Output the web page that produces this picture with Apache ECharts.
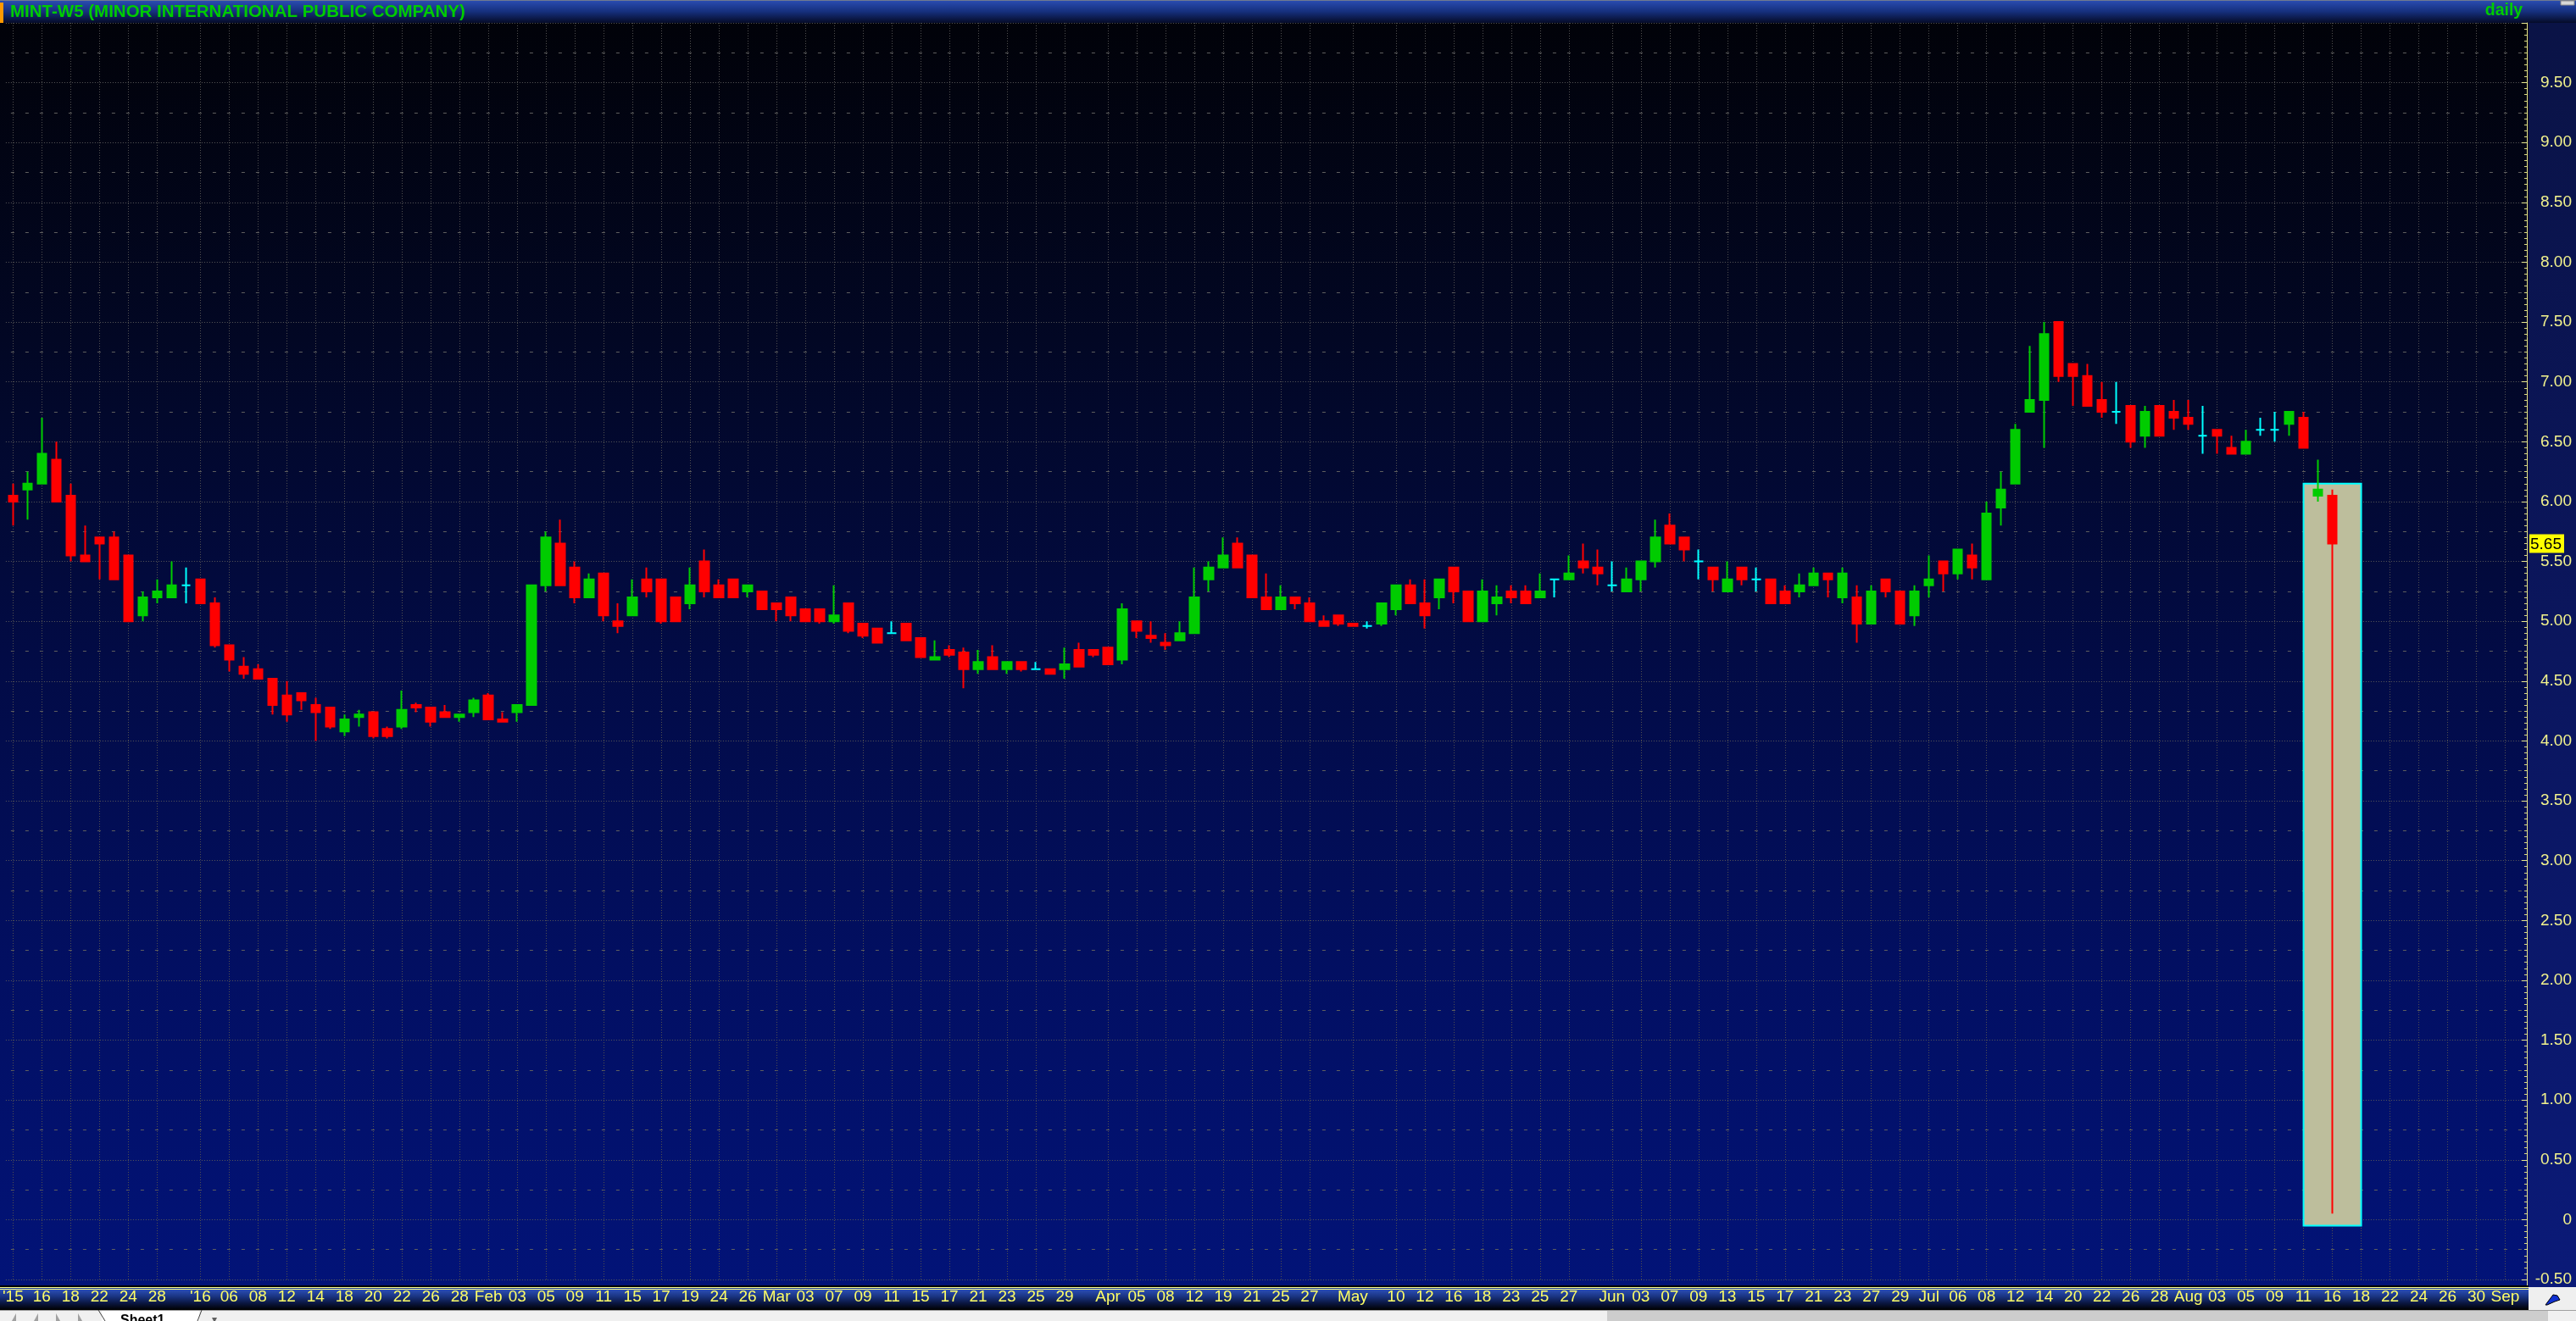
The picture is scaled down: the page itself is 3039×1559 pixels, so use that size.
<!DOCTYPE html>
<html><head><meta charset="utf-8">
<script src="https://cdn.jsdelivr.net/npm/echarts@6/dist/echarts.min.js"></script>
<style>html,body{margin:0;padding:0;background:#000;overflow:hidden}#c{width:3039px;height:1559px}</style>
</head><body><div id="c"></div>
<script>
// ---------- DATA ----------
const chartTitle = 'MINT-W5 (MINOR INTERNATIONAL PUBLIC COMPANY)';
const periodText = 'daily';
const dates = [
'2015-12-14','2015-12-15','2015-12-16','2015-12-17','2015-12-18','2015-12-21','2015-12-22','2015-12-23','2015-12-24','2015-12-25','2015-12-28','2015-12-29','2015-12-30',
'2016-01-04','2016-01-05','2016-01-06','2016-01-07','2016-01-08','2016-01-11','2016-01-12','2016-01-13','2016-01-14','2016-01-15','2016-01-18','2016-01-19','2016-01-20','2016-01-21','2016-01-22','2016-01-25','2016-01-26','2016-01-27','2016-01-28','2016-01-29',
'2016-02-01','2016-02-02','2016-02-03','2016-02-04','2016-02-05','2016-02-08','2016-02-09','2016-02-10','2016-02-11','2016-02-12','2016-02-15','2016-02-16','2016-02-17','2016-02-18','2016-02-19','2016-02-23','2016-02-24','2016-02-25','2016-02-26','2016-02-29',
'2016-03-01','2016-03-02','2016-03-03','2016-03-04','2016-03-07','2016-03-08','2016-03-09','2016-03-10','2016-03-11','2016-03-14','2016-03-15','2016-03-16','2016-03-17','2016-03-18','2016-03-21','2016-03-22','2016-03-23','2016-03-24','2016-03-25','2016-03-28','2016-03-29','2016-03-30','2016-03-31',
'2016-04-01','2016-04-04','2016-04-05','2016-04-07','2016-04-08','2016-04-11','2016-04-12','2016-04-18','2016-04-19','2016-04-20','2016-04-21','2016-04-22','2016-04-25','2016-04-26','2016-04-27','2016-04-28','2016-04-29',
'2016-05-03','2016-05-04','2016-05-09','2016-05-10','2016-05-11','2016-05-12','2016-05-13','2016-05-16','2016-05-17','2016-05-18','2016-05-19','2016-05-23','2016-05-24','2016-05-25','2016-05-26','2016-05-27','2016-05-30','2016-05-31',
'2016-06-01','2016-06-02','2016-06-03','2016-06-06','2016-06-07','2016-06-08','2016-06-09','2016-06-10','2016-06-13','2016-06-14','2016-06-15','2016-06-16','2016-06-17','2016-06-20','2016-06-21','2016-06-22','2016-06-23','2016-06-24','2016-06-27','2016-06-28','2016-06-29','2016-06-30',
'2016-07-01','2016-07-05','2016-07-06','2016-07-07','2016-07-08','2016-07-11','2016-07-12','2016-07-13','2016-07-14','2016-07-15','2016-07-20','2016-07-21','2016-07-22','2016-07-25','2016-07-26','2016-07-27','2016-07-28','2016-07-29',
'2016-08-01','2016-08-02','2016-08-03','2016-08-04','2016-08-05','2016-08-08','2016-08-09','2016-08-10','2016-08-11','2016-08-15','2016-08-16',
'2016-08-17','2016-08-18','2016-08-19','2016-08-22','2016-08-23','2016-08-24','2016-08-25','2016-08-26','2016-08-29','2016-08-30','2016-08-31','2016-09-01','2016-09-02'
];
const openP = [
6.05,6.10,6.15,6.35,6.05,5.55,5.70,5.70,5.55,5.05,
5.20,5.20,5.30,5.35,5.15,4.80,4.62,4.60,4.52,4.38,
4.40,4.30,4.28,4.08,4.20,4.24,4.10,4.12,4.30,4.28,
4.24,4.20,4.24,4.38,4.18,4.24,4.30,5.30,5.65,5.45,
5.20,5.40,5.00,5.05,5.35,5.35,5.20,5.15,5.50,5.30,
5.35,5.25,5.25,5.15,5.20,5.10,5.10,5.00,5.15,4.98,
4.94,4.90,4.98,4.86,4.68,4.76,4.74,4.60,4.70,4.60,
4.66,4.60,4.60,4.60,4.76,4.76,4.78,4.68,5.00,4.88,
4.82,4.84,4.90,5.35,5.45,5.65,5.55,5.20,5.10,5.20,
5.15,5.00,5.05,4.98,4.96,4.98,5.10,5.30,5.15,5.20,
5.45,5.25,5.00,5.15,5.25,5.25,5.20,5.35,5.35,5.50,
5.45,5.30,5.25,5.35,5.50,5.80,5.70,5.50,5.45,5.25,
5.45,5.35,5.35,5.25,5.25,5.30,5.40,5.20,5.20,4.98,
5.35,5.25,5.05,5.30,5.50,5.40,5.55,5.35,5.95,6.15,
6.75,6.85,7.50,7.15,7.05,6.85,6.75,6.80,6.55,6.80,
6.75,6.70,6.55,6.60,6.45,6.40,6.60,6.60,6.65,6.70,
6.05,6.05];
const closeP = [
6.00,6.15,6.40,6.00,5.55,5.50,5.65,5.35,5.00,5.20,
5.25,5.30,5.30,5.15,4.80,4.68,4.56,4.52,4.30,4.22,
4.34,4.24,4.12,4.18,4.22,4.04,4.04,4.26,4.28,4.16,
4.20,4.22,4.34,4.18,4.16,4.30,5.30,5.70,5.30,5.20,
5.35,5.05,4.96,5.20,5.25,5.00,5.00,5.30,5.25,5.20,
5.20,5.30,5.10,5.10,5.05,5.00,5.00,5.05,4.92,4.88,
4.82,4.90,4.84,4.70,4.70,4.72,4.60,4.66,4.60,4.66,
4.60,4.60,4.56,4.64,4.62,4.72,4.64,5.10,4.92,4.86,
4.80,4.90,5.20,5.45,5.55,5.45,5.20,5.10,5.20,5.15,
5.00,4.96,4.98,4.96,4.96,5.15,5.30,5.15,5.05,5.35,
5.25,5.00,5.25,5.20,5.20,5.15,5.25,5.35,5.40,5.45,
5.40,5.30,5.35,5.50,5.70,5.65,5.60,5.50,5.35,5.35,
5.35,5.35,5.15,5.15,5.30,5.40,5.35,5.40,4.98,5.25,
5.25,4.98,5.25,5.35,5.40,5.60,5.45,5.90,6.10,6.60,
6.85,7.40,7.05,7.05,6.80,6.75,6.75,6.50,6.75,6.55,
6.70,6.65,6.55,6.55,6.40,6.50,6.60,6.60,6.75,6.45,
6.10,5.65];
const highP = [
6.15,6.25,6.70,6.50,6.15,5.80,5.70,5.75,5.55,5.25,
5.35,5.50,5.45,5.35,5.20,4.80,4.70,4.64,4.52,4.50,
4.40,4.36,4.28,4.22,4.26,4.24,4.12,4.42,4.32,4.28,
4.30,4.22,4.36,4.40,4.24,4.30,5.30,5.75,5.85,5.50,
5.40,5.40,5.15,5.35,5.45,5.35,5.20,5.45,5.60,5.35,
5.35,5.30,5.25,5.15,5.20,5.10,5.10,5.30,5.15,4.98,
4.94,5.00,4.98,4.86,4.84,4.80,4.78,4.76,4.80,4.66,
4.66,4.66,4.60,4.78,4.82,4.76,4.78,5.15,5.00,5.00,
4.90,5.00,5.45,5.50,5.70,5.70,5.55,5.40,5.30,5.20,
5.20,5.05,5.05,4.98,5.00,5.15,5.30,5.35,5.35,5.35,
5.45,5.25,5.35,5.30,5.30,5.30,5.40,5.35,5.55,5.65,
5.60,5.50,5.45,5.50,5.85,5.90,5.70,5.60,5.45,5.50,
5.45,5.45,5.35,5.30,5.40,5.45,5.40,5.45,5.30,5.30,
5.35,5.25,5.30,5.55,5.50,5.60,5.65,6.00,6.25,6.65,
7.30,7.50,7.50,7.15,7.15,7.00,7.00,6.80,6.80,6.80,
6.85,6.85,6.80,6.60,6.55,6.60,6.70,6.75,6.75,6.75,
6.35,6.10];
const lowP = [
5.80,5.85,6.15,6.00,5.50,5.50,5.35,5.35,5.00,5.00,
5.15,5.20,5.15,5.15,4.78,4.58,4.52,4.52,4.22,4.16,
4.26,4.00,4.10,4.04,4.12,4.02,4.02,4.10,4.24,4.12,
4.20,4.16,4.20,4.18,4.16,4.16,4.30,5.25,5.30,5.15,
5.20,5.00,4.90,5.05,5.20,4.98,5.00,5.10,5.20,5.20,
5.20,5.20,5.10,5.00,5.00,5.00,4.98,4.98,4.90,4.86,
4.82,4.90,4.84,4.70,4.68,4.70,4.44,4.56,4.60,4.56,
4.58,4.60,4.56,4.52,4.62,4.70,4.64,4.64,4.86,4.82,
4.76,4.84,4.90,5.25,5.45,5.45,5.20,5.10,5.10,5.10,
5.00,4.96,4.96,4.96,4.94,4.96,5.05,5.15,4.94,5.10,
5.15,5.00,5.00,5.05,5.15,5.15,5.20,5.20,5.35,5.40,
5.30,5.25,5.25,5.25,5.45,5.65,5.50,5.35,5.25,5.25,
5.30,5.25,5.15,5.15,5.20,5.30,5.20,5.15,4.82,4.98,
5.20,4.98,4.96,5.20,5.25,5.35,5.35,5.35,5.80,6.15,
6.75,6.45,7.00,6.80,6.80,6.70,6.65,6.45,6.45,6.55,
6.60,6.60,6.40,6.40,6.40,6.40,6.55,6.50,6.55,6.45,
6.00,0.05];
const tickLabels = [
['2015-12-14',"'15"],['2015-12-16','16'],['2015-12-18','18'],['2015-12-22','22'],['2015-12-24','24'],['2015-12-28','28'],
['2016-01-04',"'16"],['2016-01-06','06'],['2016-01-08','08'],['2016-01-12','12'],['2016-01-14','14'],['2016-01-18','18'],['2016-01-20','20'],['2016-01-22','22'],['2016-01-26','26'],['2016-01-28','28'],
['2016-02-01','Feb'],['2016-02-03','03'],['2016-02-05','05'],['2016-02-09','09'],['2016-02-11','11'],['2016-02-15','15'],['2016-02-17','17'],['2016-02-19','19'],['2016-02-24','24'],['2016-02-26','26'],
['2016-03-01','Mar'],['2016-03-03','03'],['2016-03-07','07'],['2016-03-09','09'],['2016-03-11','11'],['2016-03-15','15'],['2016-03-17','17'],['2016-03-21','21'],['2016-03-23','23'],['2016-03-25','25'],['2016-03-29','29'],
['2016-04-01','Apr'],['2016-04-05','05'],['2016-04-08','08'],['2016-04-12','12'],['2016-04-19','19'],['2016-04-21','21'],['2016-04-25','25'],['2016-04-27','27'],
['2016-05-03','May'],['2016-05-10','10'],['2016-05-12','12'],['2016-05-16','16'],['2016-05-18','18'],['2016-05-23','23'],['2016-05-25','25'],['2016-05-27','27'],
['2016-06-01','Jun'],['2016-06-03','03'],['2016-06-07','07'],['2016-06-09','09'],['2016-06-13','13'],['2016-06-15','15'],['2016-06-17','17'],['2016-06-21','21'],['2016-06-23','23'],['2016-06-27','27'],['2016-06-29','29'],
['2016-07-01','Jul'],['2016-07-06','06'],['2016-07-08','08'],['2016-07-12','12'],['2016-07-14','14'],['2016-07-20','20'],['2016-07-22','22'],['2016-07-26','26'],['2016-07-28','28'],
['2016-08-01','Aug'],['2016-08-03','03'],['2016-08-05','05'],['2016-08-09','09'],['2016-08-11','11'],['2016-08-16','16'],['2016-08-18','18'],['2016-08-22','22'],['2016-08-24','24'],['2016-08-26','26'],['2016-08-30','30'],
['2016-09-01','Sep']
];
const highlightFrom = '2016-08-11', highlightTo = '2016-08-18';
const highlightTop = 6.15, highlightBottom = -0.05;
const yMin = -0.5, yMax = 10, yStep = 0.5;

// ---------- CHART ----------
const W = 3039, H = 1559;
const GL = 6, GR = 58, GT = 27, GB = 49;
const plotRight = W - GR;
const labelMap = {};
tickLabels.forEach(p => { labelMap[p[0]] = p[1]; });
const isTick = (i, v) => labelMap[v] !== undefined;

const UP = '#00CC00', DOWN = '#FF0000', DOJI = '#00FFFF';
const dojiStyle = {color: DOJI, color0: DOJI, borderColor: DOJI, borderColor0: DOJI, borderColorDoji: DOJI};
const candleData = openP.map((o, i) => {
  const item = {value: [o, closeP[i], lowP[i], highP[i]]};
  if (o === closeP[i]) item.itemStyle = dojiStyle;
  return item;
});
const LG = (stops) => new echarts.graphic.LinearGradient(0, 0, 0, 1, stops.map((c, i) => ({offset: i / (stops.length - 1), color: c})));

const chart = echarts.init(document.getElementById('c'), null, {renderer: 'canvas', width: W, height: H});

const baseGraphics = [
  {type: 'rect', id: 'bgPlot', z: -10, silent: true, shape: {x: 0, y: GT, width: plotRight + 2, height: 1519 - GT}, style: {fill: LG(['#010209', '#020724', '#020b45', '#020f62', '#021378'])}},
  {type: 'rect', id: 'bgAxis', z: -9, silent: true, shape: {x: plotRight + 2, y: GT, width: W - plotRight - 2, height: 1519 - GT}, style: {fill: LG(['#0a1346', '#0b165e', '#0b1a78'])}},
  {type: 'rect', id: 'titleBar', z: -8, silent: true, shape: {x: 0, y: 0, width: W, height: GT}, style: {fill: LG(['#2b4eb4', '#16307e', '#050b28'])}},
  {type: 'rect', id: 'titleTop', z: -7, silent: true, shape: {x: 0, y: 0, width: W, height: 1}, style: {fill: '#707a90'}},
  {type: 'rect', id: 'orange', z: 5, silent: true, shape: {x: 0, y: 3, width: 4, height: 24}, style: {fill: '#FF9900'}},
  {type: 'text', id: 'title', z: 6, silent: true, x: 12, y: 14, style: {text: chartTitle, fill: '#00CC00', font: 'bold 20.5px "Liberation Sans", Arial, sans-serif', verticalAlign: 'middle', textAlign: 'left'}},
  {type: 'text', id: 'daily', z: 6, silent: true, x: 2954, y: 13, style: {text: periodText, fill: '#00CC00', font: 'bold 19.5px "Liberation Sans", Arial, sans-serif', verticalAlign: 'middle', textAlign: 'center'}},
  {type: 'rect', id: 'corner', z: 6, silent: true, shape: {x: 3021, y: 1, width: 16, height: 5}, style: {fill: '#d8d8d8', stroke: '#888', lineWidth: 1}},
  {type: 'rect', id: 'axExt', z: 3, silent: true, shape: {x: plotRight, y: 1508, width: 1, height: 10}, style: {fill: '#E8E890'}},
  {type: 'rect', id: 'blk', z: 3, silent: true, shape: {x: 0, y: 1517, width: plotRight + 2, height: 2}, style: {fill: '#000000'}},
  {type: 'rect', id: 'yl1', z: 3, silent: true, shape: {x: 0, y: 1519, width: plotRight + 2, height: 1}, style: {fill: '#FFFF88'}},
  {type: 'rect', id: 'bl1', z: 3, silent: true, shape: {x: 0, y: 1520, width: plotRight + 2, height: 1}, style: {fill: '#1838a0'}},
  {type: 'rect', id: 'yl2', z: 3, silent: true, shape: {x: 0, y: 1521, width: plotRight + 2, height: 1}, style: {fill: '#FFFF88'}},
  {type: 'rect', id: 'xband', z: -6, silent: true, shape: {x: 0, y: 1522, width: plotRight + 2, height: 24}, style: {fill: LG(['#2c4fb6', '#1a3482', '#0a1640', '#000000'])}},
  {type: 'rect', id: 'cornerB', z: 3, silent: true, shape: {x: plotRight + 2, y: 1519, width: W - plotRight - 2, height: 28}, style: {fill: '#EFEFEF'}},
  {type: 'polygon', id: 'flag', z: 4, silent: true, shape: {points: [[3003, 1540], [3012, 1528], [3017, 1529], [3020, 1534], [3014, 1536], [3005, 1540]]}, style: {fill: '#1030D0', stroke: '#000', lineWidth: 1}},
  {type: 'rect', id: 'tabBar', z: 3, silent: true, shape: {x: 0, y: 1546, width: W, height: 13}, style: {fill: '#F0F0F0'}},
  {type: 'rect', id: 'tabLine', z: 3, silent: true, shape: {x: 0, y: 1546, width: W, height: 1}, style: {fill: '#A0A0A0'}},
  {type: 'rect', id: 'scroll', z: 3, silent: true, shape: {x: 1896, y: 1547, width: 1110, height: 12}, style: {fill: '#CDCDCD'}},
  {type: 'polygon', id: 'nav1', z: 4, silent: true, shape: {points: [[14, 1559], [19, 1550], [19, 1559]]}, style: {fill: '#A0A0A0'}},
  {type: 'polygon', id: 'nav2', z: 4, silent: true, shape: {points: [[40, 1559], [45, 1550], [45, 1559]]}, style: {fill: '#A0A0A0'}},
  {type: 'polygon', id: 'nav3', z: 4, silent: true, shape: {points: [[66, 1550], [71, 1559], [66, 1559]]}, style: {fill: '#A0A0A0'}},
  {type: 'polygon', id: 'nav4', z: 4, silent: true, shape: {points: [[92, 1550], [97, 1559], [92, 1559]]}, style: {fill: '#A0A0A0'}},
  {type: 'polyline', id: 'tabOutline', z: 4, silent: true, shape: {points: [[116, 1546], [124, 1559]]}, style: {stroke: '#404040', lineWidth: 1, fill: null}},
  {type: 'polyline', id: 'tabOutline2', z: 4, silent: true, shape: {points: [[238, 1546], [233, 1559]]}, style: {stroke: '#404040', lineWidth: 1, fill: null}},
  {type: 'rect', id: 'tabFace', z: 3.5, silent: true, shape: {x: 120, y: 1547, width: 115, height: 12}, style: {fill: '#FFFFFF'}},
  {type: 'text', id: 'sheet', z: 5, silent: true, x: 142, y: 1551, style: {text: 'Sheet1', fill: '#000', font: 'bold 16px "Liberation Sans", Arial, sans-serif', verticalAlign: 'top', textAlign: 'left'}},
  {type: 'text', id: 'tabPlus', z: 5, silent: true, x: 250, y: 1552, style: {text: '\u25BE', fill: '#606060', font: '12px "DejaVu Sans", sans-serif', verticalAlign: 'top', textAlign: 'left'}}
];

const option = {
  animation: false,
  backgroundColor: '#000000',
  grid: {left: GL, right: GR, top: GT, bottom: GB, containLabel: false},
  xAxis: {
    type: 'category', data: dates, boundaryGap: true,
    axisLine: {show: false}, axisTick: {show: false, alignWithLabel: true, interval: isTick},
    axisLabel: {show: true, interval: isTick, formatter: v => labelMap[v] || '', color: '#FFFF66',
      fontFamily: '"Liberation Sans", Arial, sans-serif', fontSize: 19, margin: 11},
    splitLine: {show: true, interval: isTick, alignWithLabel: true, lineStyle: {color: '#505050', width: 1, type: [1, 2]}}
  },
  yAxis: [
    {
      type: 'value', position: 'right', min: yMin, max: yMax, interval: yStep, scale: false,
      axisLine: {show: true, lineStyle: {color: '#E8E890', width: 1}},
      axisTick: {show: true, inside: true, length: 6, lineStyle: {color: '#E8E890'}},
      minorTick: {show: true, splitNumber: 10, length: 3, lineStyle: {color: '#D8D880'}},
      axisLabel: {show: true, showMaxLabel: false, showMinLabel: true, align: 'right', margin: 53,
        formatter: v => (Math.abs(v) < 1e-9 ? '0' : v.toFixed(2)), color: '#F2F28C',
        fontFamily: '"Liberation Sans", Arial, sans-serif', fontSize: 19},
      splitLine: {show: true, lineStyle: {color: '#5a5a5a', width: 1, type: [1, 2]}},
      minorSplitLine: {show: false}
    },
    {
      type: 'value', position: 'right', min: yMin, max: yMax, interval: yStep,
      axisLine: {show: false}, axisTick: {show: false}, axisLabel: {show: false},
      splitLine: {show: false},
      minorTick: {show: false, splitNumber: 2},
      minorSplitLine: {show: true, lineStyle: {color: '#5f5f5f', width: 1, type: [4, 13], dashOffset: 11}}
    }
  ],
  series: [{
    type: 'candlestick', name: 'MINT-W5', data: candleData, barWidth: 11, yAxisIndex: 0,
    itemStyle: {color: UP, color0: DOWN, borderColor: UP, borderColor0: DOWN, borderColorDoji: DOJI, borderWidth: 2},
    emphasis: {disabled: true},
    markArea: {
      silent: true,
      itemStyle: {color: '#BDBE9C', borderColor: '#00FFFF', borderWidth: 2, opacity: 1},
      data: [[{xAxis: highlightFrom, yAxis: highlightTop}, {xAxis: highlightTo, yAxis: highlightBottom}]]
    }
  }],
  graphic: {elements: baseGraphics}
};
chart.setOption(option);

// last price tag on the axis, placed through the y scale
const lastClose = closeP[closeP.length - 1];
const py = chart.convertToPixel({yAxisIndex: 0}, lastClose);
const priceTag = [
  {type: 'rect', id: 'pTagBox', z: 20, silent: true, shape: {x: plotRight + 3, y: py - 11, width: 41, height: 22}, style: {fill: '#FFFF00'}},
  {type: 'text', id: 'pTagTxt', z: 21, silent: true, x: plotRight + 4, y: py + 1, style: {text: lastClose.toFixed(2), fill: '#000000', font: '19px "Liberation Sans", Arial, sans-serif', verticalAlign: 'middle', textAlign: 'left'}}
];
chart.setOption({graphic: {elements: baseGraphics.concat(priceTag)}});
</script>
</body></html>
